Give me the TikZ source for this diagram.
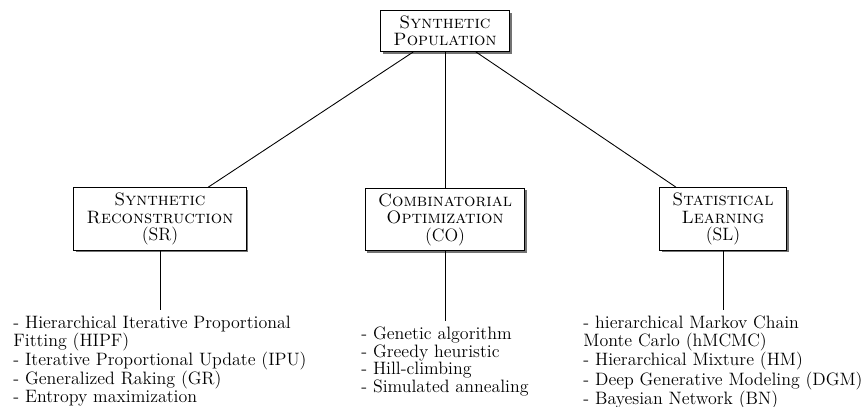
\documentclass[tikz,border=0pt]{standalone}
\usetikzlibrary{shadows}
\begin{document}
\begin{tikzpicture}[x=0.686pt,y=-0.686pt,font=\fontsize{12.3}{12}\selectfont,
 box/.style={draw, fill=white, line width=0.7pt, align=center, inner xsep=8.8pt, inner ysep=3.6pt,
   drop shadow={shadow xshift=1.5pt, shadow yshift=-1.5pt, fill=black!55, opacity=1}},
 itemlist/.style={align=left, anchor=north, inner xsep=0pt, inner ysep=4pt},
 conn/.style={line width=0.6pt}]
\fill[white] (0,0) rectangle (865,407);
\useasboundingbox (0,0) rectangle (865,407);
\node[box] (top) at (445,31) {\textsc{Synthetic}\\\textsc{Population}};
\node[box] (sr) at (160,219) {\textsc{Synthetic}\\\textsc{Reconstruction}\\(SR)};
\node[box] (co) at (445,219.5) {\textsc{Combinatorial}\\\textsc{Optimization}\\(CO)};
\node[box] (sl) at (723,219) {\textsc{Statistical}\\\textsc{Learning}\\(SL)};
\node[itemlist] (srlist) at (160,310) {- Hierarchical Iterative Proportional\\Fitting (HIPF)\\- Iterative Proportional Update (IPU)\\- Generalized Raking (GR)\\- Entropy maximization};
\node[itemlist] (colist) at (445,321) {- Genetic algorithm\\- Greedy heuristic\\- Hill-climbing\\- Simulated annealing};
\node[itemlist] (sllist) at (723,310) {- hierarchical Markov Chain\\Monte Carlo (hMCMC)\\- Hierarchical Mixture (HM)\\- Deep Generative Modeling (DGM)\\- Bayesian Network (BN)};
\draw[conn] (top) -- (sr);
\draw[conn] (top) -- (co);
\draw[conn] (top) -- (sl);
\draw[conn] (sr.south) -- (srlist.north);
\draw[conn] (co.south) -- (colist.north);
\draw[conn] (sl.south) -- (sllist.north);
\end{tikzpicture}
\end{document}
